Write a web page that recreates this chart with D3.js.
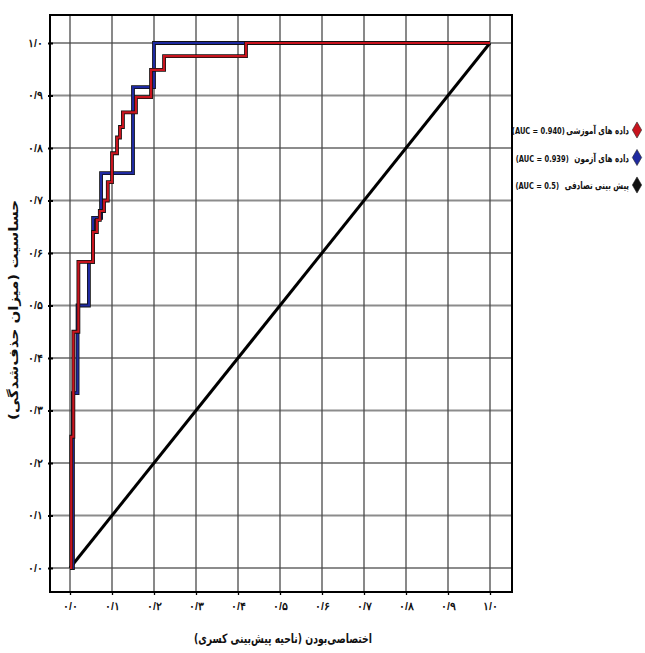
<!DOCTYPE html>
<html><head><meta charset="utf-8">
<script src="https://cdn.jsdelivr.net/npm/d3@7"></script>
<style>
html,body{margin:0;padding:0;background:#fff;}
svg{display:block;font-family:"DejaVu Sans",sans-serif;}
</style></head>
<body>
<svg id="c" width="645" height="653"></svg>
<script>
// ROC data (false positive rate, true positive rate)
const trainFpr = [0,0.003,0.008,0.02,0.055,0.064,0.071,0.081,0.09,0.1,0.112,0.119,0.126,0.157,0.193,0.224,0.419,1.0];
const trainTpr = [0,0.25,0.45,0.583,0.64,0.663,0.68,0.70,0.735,0.79,0.82,0.84,0.868,0.897,0.949,0.975,1.0,1.0];
const testFpr = [0,0.007,0.018,0.045,0.055,0.074,0.15,0.2,1.0];
const testTpr = [0,0.333,0.5,0.583,0.667,0.752,0.916,1.0,1.0];
const randFpr = [0,1];
const randTpr = [0,1];
const ticks = [0,0.1,0.2,0.3,0.4,0.5,0.6,0.7,0.8,0.9,1.0];
const legendNames = ["داده های آموزشی","داده های آزمون","پیش بینی تصادفی"];
const legendAuc = ["(AUC = 0.940)","(AUC = 0.939)","(AUC = 0.5)"];
const legendColors = ["#c8141e","#1f2aa0","#111"];
const xTitle = "اختصاصی‌بودن (ناحیه پیش‌بینی کسری)";
const yTitle = "حساسیت (میزان حذف‌شدگی)";

const fa = s => s.replace(/[0-9]/g, d => "۰۱۲۳۴۵۶۷۸۹"[+d]).replace(".", "/");
const fmt = v => fa(v.toFixed(1));

const svg = d3.select("#c");
const x = d3.scaleLinear().domain([0,1]).range([70,490]);
const y = d3.scaleLinear().domain([0,1]).range([568,43]);
const fL = 50, fR = 512, fT = 15, fB = 592;

// grid
svg.append("g").selectAll("line").data(ticks).join("line")
  .attr("x1", fL).attr("x2", fR).attr("y1", d=>y(d)).attr("y2", d=>y(d))
  .attr("stroke", "#8c8c8c").attr("stroke-width", 2);
svg.append("g").selectAll("line").data(ticks).join("line")
  .attr("x1", d=>x(d)).attr("x2", d=>x(d)).attr("y1", fT).attr("y2", fB)
  .attr("stroke", "#4a4a4a").attr("stroke-width", 1.3);

// frame
svg.append("rect").attr("x", fL).attr("y", fT).attr("width", fR-fL).attr("height", fB-fT)
  .attr("fill","none").attr("stroke","#000").attr("stroke-width",2);

// axes
const yAxis = d3.axisLeft(y).tickValues(ticks).tickFormat(fmt).tickSize(4).tickPadding(3);
const gy = svg.append("g").attr("transform", `translate(${fL},0)`).call(yAxis);
gy.select(".domain").remove();
gy.selectAll(".tick line").attr("stroke","#000").attr("stroke-width",2).attr("x1",-2).attr("x2",3);
gy.selectAll("text").attr("font-size",10.5).attr("font-weight","bold").attr("fill","#111");

const xAxis = d3.axisBottom(x).tickValues(ticks).tickFormat(fmt).tickSize(3).tickPadding(8);
const gx = svg.append("g").attr("transform", `translate(0,${fB})`).call(xAxis);
gx.select(".domain").remove();
gx.selectAll(".tick line").attr("stroke","#000").attr("stroke-width",1.3);
gx.selectAll("text").attr("font-size",10.5).attr("font-weight","bold").attr("fill","#111");

// curves
const mk = (fx, ty) => fx.map((v,i)=>[v, ty[i]]);
const step = d3.line().x(d=>x(d[0])).y(d=>y(d[1])).curve(d3.curveStepAfter);
const straight = d3.line().x(d=>x(d[0])).y(d=>y(d[1]));

svg.append("path").attr("d", straight(mk(randFpr, randTpr)))
  .attr("fill","none").attr("stroke","#000").attr("stroke-width",3);

function drawStep(data, color) {
  svg.append("path").attr("d", step(data)).attr("fill","none")
    .attr("stroke","#111").attr("stroke-width",3.8);
  svg.append("path").attr("d", step(data)).attr("fill","none")
    .attr("stroke",color).attr("stroke-width",2.2);
}
drawStep(mk(testFpr, testTpr), legendColors[1]);
drawStep(mk(trainFpr, trainTpr), legendColors[0]);

// legend (horizontally condensed text like the reference)
const lg = svg.append("g");
legendNames.forEach((t,i)=>{
  const cy = 130 + i*27.5;
  lg.append("path").attr("d", d3.symbol(d3.symbolDiamond, 75)())
    .attr("transform", `translate(637,${cy})`).attr("fill", legendColors[i])
    .attr("stroke","#222").attr("stroke-width",0.6);
  const row = lg.append("g").attr("transform", `translate(629,${cy+4}) scale(0.7,1)`);
  const nm = row.append("text").attr("x", 0).attr("y", 0).attr("text-anchor","end")
    .attr("font-size",10.2).attr("font-weight","bold").attr("fill","#111").text(t);
  const w = nm.node().getComputedTextLength();
  row.append("text").attr("x", -w - (i===0 ? 2 : 8)).attr("y", 0).attr("text-anchor","end")
    .attr("font-size",9.6).attr("font-weight","bold").attr("fill","#111").text(legendAuc[i]);
});

// titles
svg.append("text").attr("x", 283).attr("y", 643).attr("text-anchor","middle")
  .attr("direction","rtl").attr("textLength",178).attr("lengthAdjust","spacingAndGlyphs")
  .attr("font-size",13).attr("font-weight","bold").attr("fill","#111").text(xTitle);
svg.append("text").attr("transform","translate(18,310) rotate(-90)").attr("text-anchor","middle")
  .attr("direction","rtl").attr("textLength",220).attr("lengthAdjust","spacingAndGlyphs")
  .attr("font-size",13).attr("font-weight","bold").attr("fill","#111").text(yTitle);
</script>
</body></html>
